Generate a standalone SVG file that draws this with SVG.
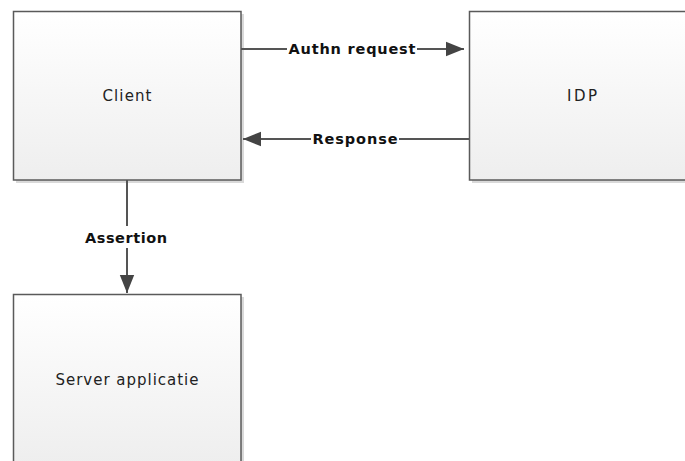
<svg xmlns="http://www.w3.org/2000/svg" width="685" height="461" viewBox="0 0 685 461">
  <style>
    .box { stroke: #5a5a5a; stroke-width: 1.5; fill: url(#boxFill); }
    .shadow { fill: #d9d9d9; }
    .node-label { font-family: "DejaVu Sans", "Liberation Sans", sans-serif; font-size: 15px; fill: #222; text-anchor: middle; }
    .edge { stroke: #555; stroke-width: 2; fill: none; }
    .edge-label { font-family: "DejaVu Sans", "Liberation Sans", sans-serif; font-size: 14.5px; font-weight: bold; fill: #111; text-anchor: middle; }
    .label-bg { fill: #fff; }
  </style>
  <defs>
    <linearGradient id="boxFill" x1="0" y1="0" x2="0" y2="1">
      <stop offset="0" stop-color="#ffffff"/>
      <stop offset="1" stop-color="#eeeeee"/>
    </linearGradient>
    <marker id="arrowBig" viewBox="0 0 10 10" refX="10" refY="5" markerWidth="18" markerHeight="18" markerUnits="userSpaceOnUse" orient="auto">
      <path d="M0,1 L10,5 L0,9 Z" fill="#444"/>
    </marker>
  </defs>

  <rect width="685" height="461" fill="#ffffff"/>

  <g id="client">
    <rect class="shadow" x="16" y="14" width="228" height="169"/>
    <rect class="box" x="13.5" y="11.5" width="227.5" height="168.5"/>
    <text class="node-label" x="127" y="101" textLength="49" lengthAdjust="spacing">Client</text>
  </g>

  <g id="idp">
    <rect class="shadow" x="472" y="14" width="228" height="169"/>
    <rect class="box" x="469.5" y="11.5" width="227.5" height="168.5"/>
    <text class="node-label" x="582" y="101" textLength="30" lengthAdjust="spacing">IDP</text>
  </g>

  <g id="server">
    <rect class="shadow" x="16" y="297" width="228" height="170"/>
    <rect class="box" x="13.5" y="294.5" width="227.5" height="170"/>
    <text class="node-label" x="127" y="385" textLength="143" lengthAdjust="spacing">Server applicatie</text>
  </g>

  <g id="connectors">
    <path class="edge" d="M241,49 H464" marker-end="url(#arrowBig)"/>
    <rect class="label-bg" x="287" y="40" width="130" height="18"/>
    <text class="edge-label" x="352" y="54" textLength="127" lengthAdjust="spacing">Authn request</text>

    <path class="edge" d="M469,139 H243" marker-end="url(#arrowBig)"/>
    <rect class="label-bg" x="311" y="130" width="88" height="18"/>
    <text class="edge-label" x="355" y="144" textLength="85" lengthAdjust="spacing">Response</text>

    <path class="edge" d="M127,180 V293" marker-end="url(#arrowBig)"/>
    <rect class="label-bg" x="83" y="226" width="87" height="22"/>
    <text class="edge-label" x="126" y="243" textLength="82" lengthAdjust="spacing">Assertion</text>
  </g>
</svg>
